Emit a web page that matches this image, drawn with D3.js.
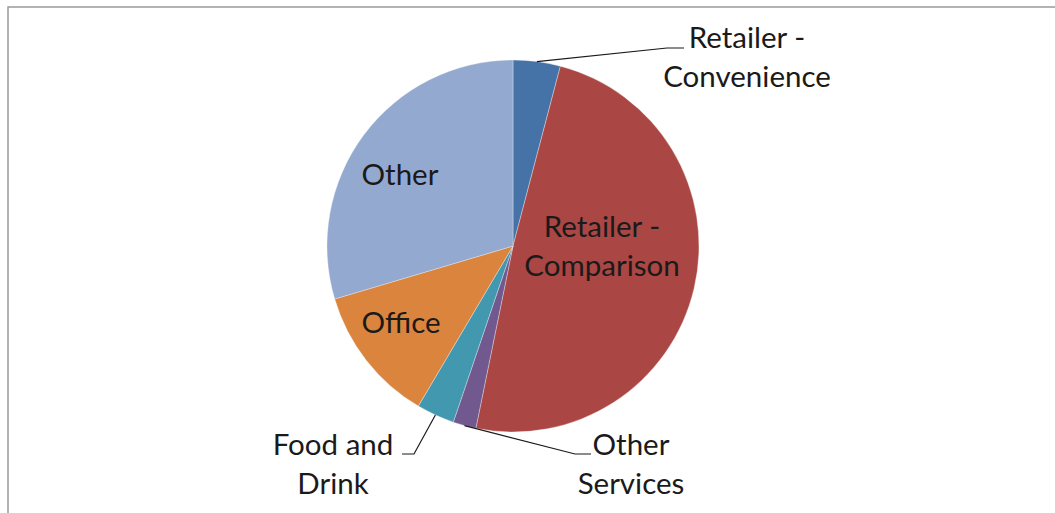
<!DOCTYPE html>
<html>
<head>
<meta charset="utf-8">
<script src="https://cdn.jsdelivr.net/npm/d3@7/dist/d3.min.js"></script>
<style>
  html, body { margin: 0; padding: 0; background: #fff; overflow: hidden; }
  svg { display: block; }
  text { font-family: Lato, "Open Sans", sans-serif; fill: #1a1a1a; }
</style>
</head>
<body>
<svg id="chart" width="1055" height="513"></svg>
<script>
// Floor space by use class (percent of total), clockwise from 12 o'clock
const categories = [
  "Retailer - Convenience",
  "Retailer - Comparison",
  "Other Services",
  "Food and Drink",
  "Office",
  "Other"
];
const shares = [4.1, 49.1, 2.0, 3.3, 11.9, 29.6];
const sliceColors = ["#4572A7", "#AA4643", "#71588F", "#4198AF", "#DB843D", "#93A9CF"];
const labelLines = [
  ["Retailer -", "Convenience"],
  ["Retailer -", "Comparison"],
  ["Other", "Services"],
  ["Food and", "Drink"],
  ["Office"],
  ["Other"]
];

const width = 1055, height = 513;
const cx = 513, cy = 246, radius = 186;
const fontSize = 29.5, lineGap = 39;

// Label placement: inside labels sit on the slice, outside labels get a leader line
// with an elbow ending at the text baseline.
const labelLayout = [
  { x: 747, y: 48,  outside: true, elbow: [667, 48], end: [684, 48] },
  { x: 602, y: 237, outside: false },
  { x: 631, y: 455, outside: true, elbow: [575, 454], end: [591, 454] },
  { x: 333, y: 455, outside: true, elbow: [414, 454], end: [402, 454] },
  { x: 401, y: 333, outside: false },
  { x: 400, y: 185, outside: false }
];

const data = categories.map((name, i) => ({
  name, value: shares[i], color: sliceColors[i], lines: labelLines[i], layout: labelLayout[i]
}));

const svg = d3.select("#chart");

// chart area frame (runs off the right and bottom edges)
svg.append("rect")
  .attr("x", 8).attr("y", 7)
  .attr("width", 1200).attr("height", 700)
  .attr("fill", "#fff")
  .attr("stroke", "#9a9a9a")
  .attr("stroke-width", 1.5);

const pie = d3.pie().value(d => d.value).sort(null);
const arcs = pie(data);
const arc = d3.arc().innerRadius(0).outerRadius(radius);

const g = svg.append("g").attr("transform", `translate(${cx},${cy})`);

g.selectAll("path.slice")
  .data(arcs)
  .join("path")
  .attr("class", "slice")
  .attr("d", arc)
  .attr("fill", d => d.data.color)
  .attr("stroke", "#f4f4f4")
  .attr("stroke-opacity", 0.6)
  .attr("stroke-width", 0.6);

// leader lines from the slice's outer edge (mid-angle) to the label
const edge = a => {
  const m = (a.startAngle + a.endAngle) / 2;
  return [cx + radius * Math.sin(m), cy - radius * Math.cos(m)];
};

svg.selectAll("polyline.leader")
  .data(arcs.filter(a => a.data.layout.outside))
  .join("polyline")
  .attr("class", "leader")
  .attr("points", a => [edge(a), a.data.layout.elbow, a.data.layout.end].map(p => p.join(",")).join(" "))
  .attr("fill", "none")
  .attr("stroke", "#1a1a1a")
  .attr("stroke-width", 1.2);

// category labels
const labels = svg.selectAll("text.label")
  .data(arcs)
  .join("text")
  .attr("class", "label")
  .attr("text-anchor", "middle")
  .attr("font-size", fontSize)
  .attr("x", a => a.data.layout.x)
  .attr("y", a => a.data.layout.y);

labels.selectAll("tspan")
  .data(a => a.data.lines.map((t, i) => ({ t, i, x: a.data.layout.x, y: a.data.layout.y })))
  .join("tspan")
  .attr("x", d => d.x)
  .attr("y", d => d.y + d.i * lineGap)
  .text(d => d.t);
</script>
</body>
</html>
